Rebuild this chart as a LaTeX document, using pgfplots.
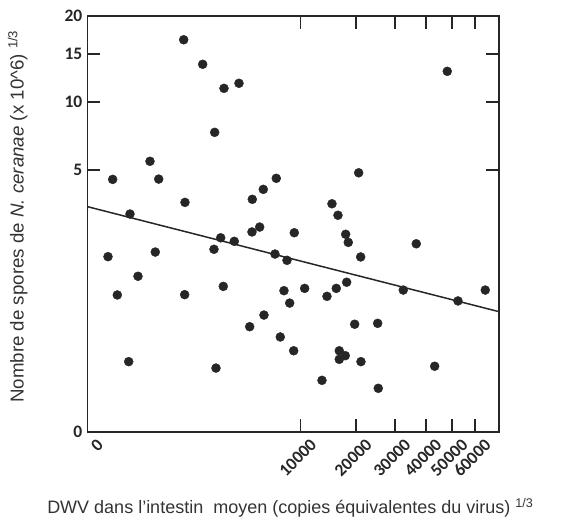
\documentclass[border=0pt]{standalone}
\usepackage{fontspec}
\setmainfont{Liberation Sans}
\newfontfamily\tickfont{Carlito}
\usepackage{pgfplots}
\pgfplotsset{compat=1.18}
\definecolor{ink}{HTML}{262626}
\definecolor{txt}{HTML}{333333}
\begin{document}
\begin{tikzpicture}
\useasboundingbox (-87.5pt,-92pt) rectangle (475.5pt,432pt);
% both axes are cube-root scaled: values below are already cube roots
\begin{axis}[
    at={(0,0)}, anchor=south west,
    scale only axis,
    width=411.5pt, height=416pt,
    xmin=0, xmax=41.57,
    ymin=0, ymax=2.714,
    axis line style={ink, line width=1.6pt},
    tick align=inside,
    major tick length=13pt,
    tick style={ink, line width=1.4pt},
    xtick={0,21.544,27.144,31.072,34.200,36.840,39.149},
    xticklabels={0,10000,20000,30000,40000,50000,60000},
    ytick={0,1.710,2.154,2.466,2.714},
    yticklabels={0,5,10,15,20},
    ticklabel style={font=\tickfont\bfseries\fontsize{17.5}{17.5}\selectfont, text=ink},
    xticklabel style={rotate=45, anchor=north east, inner sep=1pt, xshift=3pt, yshift=-9pt},
    yticklabel style={inner sep=1pt, xshift=-4pt},
    xlabel={DWV dans l'intestin\ \ moyen (copies équivalentes du virus) \textsuperscript{1/3}},
    ylabel={Nombre de spores de \textit{N. ceranae} (x 10\textasciicircum 6) \textsuperscript{1/3}},
    label style={font=\fontsize{18}{18}\selectfont, text=txt},
    xlabel style={at={(axis description cs:0.493,-0.197)}, anchor=base},
    ylabel style={font=\fontsize{18.7}{18.7}\selectfont, at={(axis description cs:-0.137,0.518)}, anchor=south},
    clip=false,
]
\addplot[only marks, mark=*, mark size=4.5pt, mark options={fill=ink, draw=ink}] coordinates {
    (2.545,1.648) (4.293,1.422) (6.313,1.766) (7.192,1.650) (9.717,2.559)
    (9.848,1.498) (11.636,2.399) (12.848,1.955) (13.788,2.242) (15.303,2.275)
    (16.646,1.518) (17.758,1.583) (19.071,1.655) (24.697,1.489) (25.303,1.414)
    (27.394,1.691) (36.343,2.353) (2.071,1.144) (6.848,1.174) (5.101,1.016)
    (3.010,0.894) (4.162,0.459) (9.818,0.896) (12.778,1.192) (13.455,1.267)
    (14.828,1.244) (13.717,0.950) (12.980,0.417) (16.616,1.305) (17.394,1.337)
    (20.889,1.300) (18.939,1.161) (20.152,1.120) (19.848,0.922) (21.939,0.937)
    (20.424,0.841) (17.828,0.763) (16.384,0.687) (19.475,0.620) (20.828,0.530)
    (23.687,0.337) (26.081,1.290) (26.343,1.237) (27.596,1.142) (26.182,0.977)
    (25.131,0.937) (24.192,0.885) (26.990,0.703) (29.313,0.709) (25.434,0.530)
    (26.040,0.498) (25.434,0.474) (27.626,0.459) (29.374,0.285) (33.212,1.228)
    (31.899,0.926) (37.424,0.855) (40.182,0.926) (35.071,0.429)
};
\addplot[ink, line width=1.5pt, no marks] coordinates {(0,1.470) (41.57,0.785)};
\end{axis}
\end{tikzpicture}
\end{document}
